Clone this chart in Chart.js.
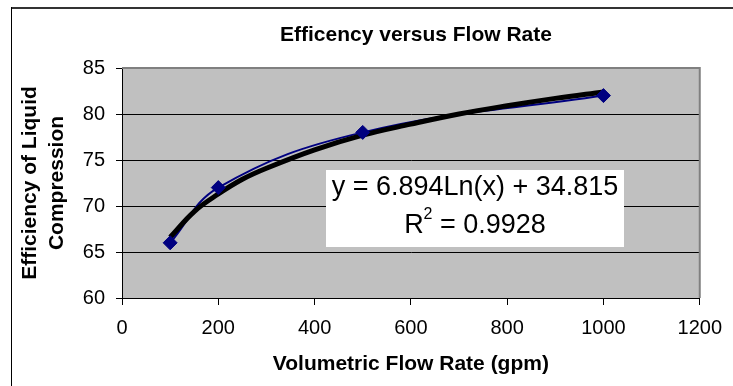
<!DOCTYPE html>
<html>
<head>
<meta charset="utf-8">
<script src="https://cdn.jsdelivr.net/npm/chart.js@4.4.1/dist/chart.umd.min.js"></script>
<style>
html, body { margin: 0; padding: 0; background: #fff; }
#wrap { width: 733px; height: 386px; }
</style>
</head>
<body>
<div id="wrap"><canvas id="flow-chart" width="733" height="386"></canvas></div>
<script>
// measured points
var flowRates = [100, 200, 500, 1000];
var efficiency = [66, 72, 78, 82];
// log trendline
var trendX = [100, 150, 200, 250, 300, 400, 500, 600, 700, 800, 900, 1000];
var trendY = [66.6, 69.4, 71.3, 72.9, 74.1, 76.1, 77.7, 78.9, 80.0, 80.9, 81.7, 82.4];
var xTicks = [0, 200, 400, 600, 800, 1000, 1200];
var yTicks = [60, 65, 70, 75, 80, 85];
var chartTitle = 'Efficency versus Flow Rate';
var equationText = 'y = 6.894Ln(x) + 34.815';
var rSquaredText = ' = 0.9928';

var FONT = 'Arial, "Liberation Sans", sans-serif';

function toPoints(xs, ys) {
    return xs.map(function (x, i) { return { x: x, y: ys[i] }; });
}

var excelLook = {
    id: 'excelLook',
    beforeDraw: function (chart) {
        var ctx = chart.ctx, a = chart.chartArea;
        ctx.save();
        ctx.fillStyle = '#fff';
        ctx.fillRect(0, 0, chart.width, chart.height);
        // outer frame
        ctx.fillStyle = '#333';
        ctx.fillRect(11, 7, chart.width - 11, 2);
        ctx.fillStyle = '#000';
        ctx.fillRect(11, 7, 1, chart.height - 7);
        // plot area
        ctx.fillStyle = '#c0c0c0';
        ctx.fillRect(a.left, a.top, a.right - a.left, a.bottom - a.top);
        ctx.restore();
    },
    beforeDatasetsDraw: function (chart) {
        var ctx = chart.ctx, a = chart.chartArea;
        ctx.save();
        ctx.strokeStyle = '#808080';
        ctx.lineWidth = 2;
        ctx.beginPath();
        ctx.moveTo(a.left, a.top);
        ctx.lineTo(a.right, a.top);
        ctx.lineTo(a.right, a.bottom);
        ctx.stroke();
        ctx.restore();
    },
    afterDraw: function (chart) {
        var ctx = chart.ctx, a = chart.chartArea;
        ctx.save();
        // title
        ctx.fillStyle = '#000';
        ctx.font = 'bold 21px ' + FONT;
        ctx.textAlign = 'center';
        ctx.textBaseline = 'middle';
        ctx.fillText(chartTitle, 416, 35);

        // equation box
        var bx = a.left + 204, by = a.top + 102, bw = 298, bh = 77;
        ctx.fillStyle = '#fff';
        ctx.fillRect(bx, by, bw, bh);
        var cx = bx + bw / 2;
        ctx.fillStyle = '#000';
        ctx.font = '27px ' + FONT;
        ctx.fillText(equationText, cx, by + 18);

        ctx.textAlign = 'left';
        var wR = ctx.measureText('R').width;
        var wRest = ctx.measureText(rSquaredText).width;
        ctx.font = '16px ' + FONT;
        var w2 = ctx.measureText('2').width;
        var x0 = cx - (wR + w2 + wRest) / 2;
        var ly = by + 56;
        ctx.font = '27px ' + FONT;
        ctx.fillText('R', x0, ly);
        ctx.font = '16px ' + FONT;
        ctx.fillText('2', x0 + wR, ly - 11);
        ctx.font = '27px ' + FONT;
        ctx.fillText(rSquaredText, x0 + wR + w2, ly);
        ctx.restore();
    }
};

function plainLabel(v) { return String(v); }

new Chart(document.getElementById('flow-chart'), {
    type: 'scatter',
    data: {
        datasets: [{
            data: toPoints(flowRates, efficiency),
            showLine: true,
            borderColor: '#000080',
            borderWidth: 2,
            tension: 0.4,
            pointRadius: 0,
            order: 3
        }, {
            data: toPoints(trendX, trendY),
            showLine: true,
            borderColor: '#000',
            borderWidth: 5,
            tension: 0.4,
            pointRadius: 0,
            order: 2
        }, {
            data: toPoints(flowRates, efficiency),
            showLine: false,
            pointStyle: 'rectRot',
            pointRadius: 7,
            backgroundColor: '#000080',
            borderColor: '#000080',
            borderWidth: 1,
            order: 1
        }]
    },
    options: {
        responsive: false,
        animation: false,
        layout: { padding: { left: 0, top: 68, right: 28, bottom: 0 } },
        plugins: {
            legend: { display: false },
            tooltip: { enabled: false },
            title: { display: false }
        },
        scales: {
            x: {
                type: 'linear',
                min: 0,
                max: 1200,
                afterBuildTicks: function (s) { s.ticks = xTicks.map(function (v) { return { value: v }; }); },
                afterFit: function (s) { s.height = 88; },
                grid: { drawOnChartArea: false, drawTicks: true, tickLength: 7, tickColor: '#000' },
                border: { color: '#000', width: 1 },
                ticks: { color: '#000', font: { family: FONT, size: 20 }, padding: 11, maxRotation: 0, callback: plainLabel },
                title: {
                    display: true,
                    text: 'Volumetric Flow Rate (gpm)',
                    color: '#000',
                    font: { family: FONT, size: 21, weight: 'bold' },
                    padding: { top: 0, bottom: 9 }
                }
            },
            y: {
                min: 60,
                max: 85,
                afterBuildTicks: function (s) { s.ticks = yTicks.map(function (v) { return { value: v }; }); },
                afterFit: function (s) { s.width = 122; },
                grid: {
                    color: function (c) { return c.tick && c.tick.value === 85 ? 'rgba(0,0,0,0)' : '#000'; },
                    tickColor: '#000',
                    tickLength: 6
                },
                border: { color: '#000', width: 1 },
                ticks: { color: '#000', font: { family: FONT, size: 20 }, padding: 11, callback: plainLabel },
                title: {
                    display: true,
                    text: ['Efficiency of Liquid', 'Compression'],
                    color: '#000',
                    font: { family: FONT, size: 21, weight: 'bold', lineHeight: '27px' },
                    padding: { top: 17, bottom: 0 }
                }
            }
        }
    },
    plugins: [excelLook]
});
</script>
</body>
</html>
